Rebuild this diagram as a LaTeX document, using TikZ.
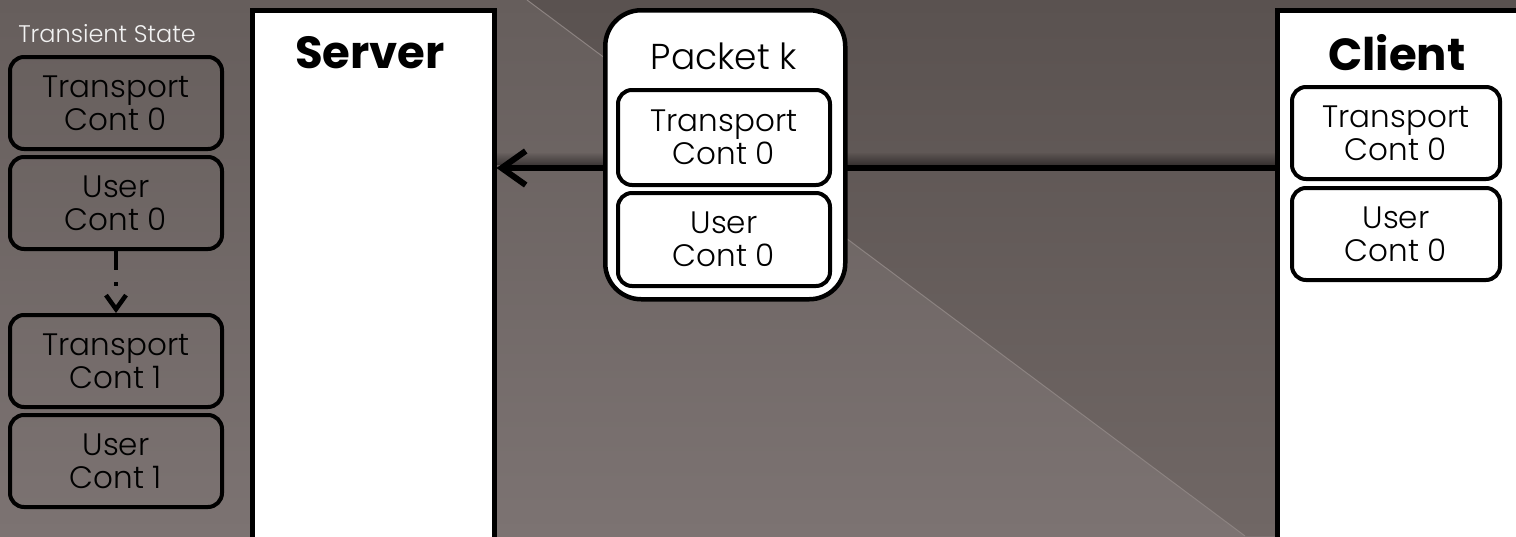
\documentclass[tikz,border=0pt]{standalone}
\usepackage{fontspec}
\setmainfont{Poppins Light}[BoldFont=Poppins Bold]
\usepackage{tikz}
\usetikzlibrary{arrows.meta, positioning, fadings}

\definecolor{slidelight}{HTML}{665E5C}
\definecolor{slidelightlow}{HTML}{7C7372}
\definecolor{slidedark}{HTML}{5A5250}
\definecolor{slidedarklow}{HTML}{706765}
\definecolor{slideline}{HTML}{8C8381}

\begin{document}
\begin{tikzpicture}[
    x=1pt, y=-1pt,
    ctx box/.style = {
        rectangle,
        draw=black,
        line width=4pt,
        rounded corners=14pt,
        minimum width=#1,
        minimum height=92pt,
        align=center,
        inner sep=0pt,
        font=\fontsize{31}{33}\selectfont
    },
    host box/.style = {
        rectangle,
        draw=black,
        fill=white,
        line width=4.5pt,
        anchor=north west,
        minimum height=560pt,
        minimum width=#1
    },
    host title/.style = {font=\bfseries\fontsize{45}{45}\selectfont},
    packet box/.style = {
        rectangle,
        draw=black,
        fill=white,
        line width=4.5pt,
        rounded corners=36pt,
        anchor=north west,
        minimum width=240pt,
        minimum height=289pt
    },
    msg line/.style = {line width=6pt, -{Straight Barb[length=24pt, width=34pt]}},
    ctx arrow/.style = {line width=4.5pt, dash pattern=on 19pt off 12pt on 4pt off 40pt,
        -{Straight Barb[length=14pt, width=20pt]}}
]

\useasboundingbox (0,0) rectangle (1516,536);

% slide background
\shade[top color=slidelight, bottom color=slidelightlow] (0,0) rectangle (1516,536);
\shade[top color=slidedark, bottom color=slidedarklow] (527,0) -- (1516,0) -- (1516,536) -- (1245,536) -- cycle;
\draw[slideline, line width=1pt] (527,0) -- (1245,536);

% transient state column
\node[font=\fontsize{24}{24}\selectfont, text=white!95!black] (transient) at (107,34) {Transient State};
\node[ctx box=212pt, anchor=north] (tc0) at (116,55) {Transport\\Cont 0};
\node[ctx box=212pt, below=4pt of tc0] (uc0) {User\\Cont 0};
\node[ctx box=212pt, below=62pt of uc0] (tc1) {Transport\\Cont 1};
\node[ctx box=212pt, below=4pt of tc1] (uc1) {User\\Cont 1};
\draw[ctx arrow] (uc0.south) -- (tc1.north);

% hosts
\node[host box=242pt] (server) at (250,8) {};
\node[host title] (servertitle) at (370,53) {Server};

\node[host box=270pt] (client) at (1275,8) {};
\node[host title] (clienttitle) at (1397,53) {Client};
\node[ctx box=208pt, anchor=north] (ctc) at (1396,85) {Transport\\Cont 0};
\node[ctx box=208pt, below=5pt of ctc] (cuc) {User\\Cont 0};

% message from client to server
\coordinate (msg) at (0,168);
\fill[black, opacity=0.45, path fading=north] (server.east |- 0,152) rectangle (client.west |- 0,165);
\draw[msg line] (client.west |- msg) -- (server.east |- msg);

% packet in flight
\node[packet box] (packet) at (603,8) {};
\node[font=\fontsize{36}{36}\selectfont] (pkttitle) at (724,56) {Packet k};
\node[ctx box=212pt, anchor=north, minimum height=95pt] (ptc) at (724,88) {Transport\\Cont 0};
\node[ctx box=212pt, below=4pt of ptc, minimum height=93pt] (puc) {User\\Cont 0};

\end{tikzpicture}
\end{document}
